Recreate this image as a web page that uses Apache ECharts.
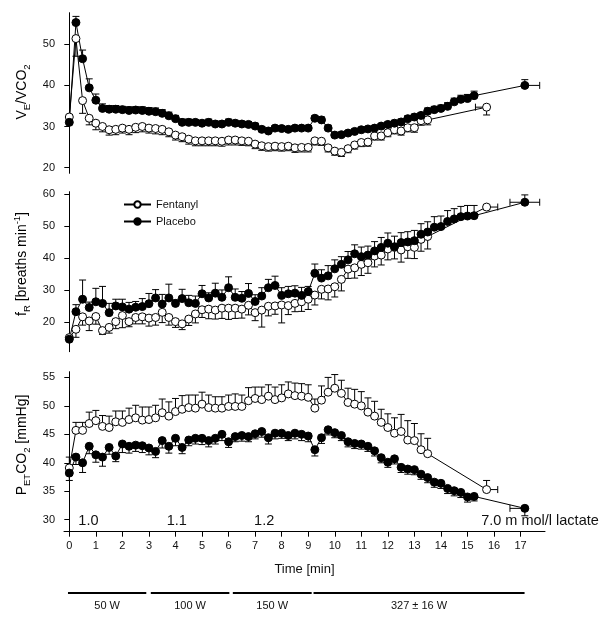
<!DOCTYPE html>
<html>
<head>
<meta charset="utf-8">
<script src="https://cdn.jsdelivr.net/npm/echarts@6/dist/echarts.min.js"></script>
<style>
html, body { margin: 0; padding: 0; background: #fff; }
#chart { width: 609px; height: 625px; }
</style>
</head>
<body>
<div id="chart"></div>
<script>
// time points [min], last one = mean time at exhaustion
var timeP = [0,0.25,0.5,0.75,1,1.25,1.5,1.75,2,2.25,2.5,2.75,3,3.25,3.5,3.75,4,4.25,4.5,4.75,
  5,5.25,5.5,5.75,6,6.25,6.5,6.75,7,7.25,7.5,7.75,8,8.25,8.5,8.75,9,9.25,9.5,9.75,
  10,10.25,10.5,10.75,11,11.25,11.5,11.75,12,12.25,12.5,12.75,13,13.25,13.5,13.75,14,14.25,14.5,14.75,
  15,15.25,17.16];
var timeF = [0,0.25,0.5,0.75,1,1.25,1.5,1.75,2,2.25,2.5,2.75,3,3.25,3.5,3.75,4,4.25,4.5,4.75,
  5,5.25,5.5,5.75,6,6.25,6.5,6.75,7,7.25,7.5,7.75,8,8.25,8.5,8.75,9,9.25,9.5,9.75,
  10,10.25,10.5,10.75,11,11.25,11.5,11.75,12,12.25,12.5,12.75,13,13.25,13.5,15.72];
var endTimeErrP = 0.56;
var endTimeErrF = 0.42;

// VE/VCO2
var vePlacebo = [31.0,55.3,46.5,39.4,36.4,34.4,34.2,34.2,34.1,33.9,
  34.0,33.9,33.7,33.6,33.2,32.6,31.9,31.0,31.0,31.0,
  30.8,31.0,30.6,30.6,31.0,30.8,30.6,30.5,30.1,29.3,
  28.9,29.6,29.5,29.3,29.6,29.6,29.6,32.0,31.6,29.6,
  27.9,28.0,28.4,28.8,29.2,29.4,29.6,30.1,30.5,30.8,
  31.1,31.9,32.3,32.7,33.7,34.1,34.4,34.9,36.0,36.6,
  36.8,37.5,40.0];
var vePlaceboErr = [0.5,1.5,2.1,2.2,1.5,1.1,0.9,0.9,0.8,0.9,
  0.8,0.9,0.9,0.9,0.9,0.9,0.8,0.8,0.8,0.7,
  0.7,0.8,0.7,0.7,0.8,0.7,0.7,0.7,0.7,0.7,
  0.7,0.6,0.6,0.6,0.6,0.6,0.6,0.6,0.7,0.7,
  0.6,0.6,0.6,0.6,0.6,0.6,0.6,0.6,0.6,0.7,
  0.7,0.7,0.7,0.7,0.8,0.8,0.8,0.9,0.9,1.0,
  1.0,1.1,1.4];
var veFentanyl = [32.3,51.4,36.3,32.0,30.8,30.0,29.2,29.3,29.6,29.3,
  29.8,30.0,29.6,29.5,29.3,28.7,27.9,27.5,26.9,26.5,
  26.5,26.5,26.5,26.4,26.7,26.7,26.5,26.4,25.7,25.3,
  25.1,25.2,25.1,25.2,24.8,24.9,24.9,26.5,26.4,24.8,
  24.0,23.7,24.6,25.5,26.1,26.2,27.7,27.7,28.5,29.2,
  28.9,29.7,29.7,31.4,31.6,34.7];
var veFentanylErr = [0.3,4.3,3.1,1.6,1.6,1.3,1.3,1.3,1.2,1.3,
  1.3,1.3,1.2,1.3,1.3,1.2,1.2,1.2,1.2,1.2,
  1.2,1.2,1.2,1.2,1.2,1.2,1.1,1.1,1.1,1.1,
  1.1,1.1,1.1,1.1,1.1,1.1,1.1,1.0,1.0,1.0,
  1.0,1.0,1.0,1.0,1.0,1.0,1.0,1.0,1.0,1.0,
  1.0,1.0,1.1,1.1,1.2,1.9];

// fR [breaths/min]
var frPlacebo = [14.7,23.3,27.2,24.6,26.4,25.9,23.0,25.1,24.8,24.1,
  24.7,24.9,25.8,27.6,25.7,27.6,25.9,27.4,26.1,25.9,
  28.9,27.6,29.1,27.8,30.8,27.8,27.5,29.0,26.5,28.2,
  30.8,31.5,28.4,28.9,29.1,28.4,29.6,35.3,33.8,34.5,
  36.7,38.1,39.5,41.4,40.5,41.0,42.3,43.4,44.7,43.6,
  44.9,45.1,45.5,47.5,48.2,49.7,49.9,51.5,52.3,53.0,
  53.2,53.3,57.5];
var frPlaceboErr = [0.6,2.2,6.0,1.7,4.2,5.3,2.9,2.1,2.4,2.1,
  1.8,2.5,3.2,2.6,3.0,4.3,1.1,2.9,2.3,2.3,
  2.6,1.6,3.1,2.3,3.4,2.6,2.1,3.1,2.1,2.6,
  2.6,2.9,2.4,2.3,2.3,2.5,1.6,2.9,2.6,3.2,
  2.8,2.4,2.6,2.8,3.0,2.8,2.9,3.1,3.2,3.3,
  3.1,3.2,3.2,3.3,3.2,3.3,3.3,3.4,3.2,3.2,
  3.3,3.2,2.3];
var frFentanyl = [15.2,17.8,21.7,20.4,21.8,17.4,18.4,20.2,22.1,20.2,
  21.5,21.7,21.3,21.5,23.1,21.5,20.2,19.5,21.0,22.6,
  23.9,24.1,23.8,24.4,24.4,24.4,24.1,25.3,23.0,23.8,
  25.0,25.1,25.4,25.2,25.9,26.4,27.2,28.5,30.3,30.4,
  31.1,33.4,36.6,37.0,38.1,38.6,40.7,41.0,42.9,43.4,
  42.6,43.6,43.4,45.9,46.8,56.0];
var frFentanylErr = [0.5,2.5,2.6,3.0,2.4,1.2,1.8,2.2,3.8,1.6,
  2.0,2.2,2.5,2.4,3.2,2.4,1.8,1.8,2.0,2.8,
  2.4,3.0,2.8,3.2,3.5,3.2,2.8,3.0,2.5,5.3,
  3.0,2.6,5.6,2.8,2.6,3.0,3.2,3.1,3.0,3.4,
  3.2,3.6,2.9,3.2,3.5,3.3,3.4,3.1,3.4,3.6,
  3.8,3.6,3.5,3.7,3.9,0.8];

// PETCO2 [mmHg]
var pePlacebo = [38.2,41.0,40.0,42.9,41.4,41.0,42.7,41.2,43.3,42.9,
  43.1,43.0,42.6,42.0,43.9,42.9,44.3,42.7,44.0,44.3,
  44.3,43.9,44.3,45.0,43.7,44.6,44.8,44.6,45.1,45.5,
  44.4,45.2,45.2,44.8,45.2,45.0,44.7,42.3,44.4,45.8,
  45.3,44.8,43.7,43.4,43.3,42.9,42.1,40.9,40.1,40.7,
  39.2,38.9,38.8,38.0,37.4,36.6,36.4,35.5,35.1,34.8,
  34.0,34.1,32.0];
var pePlaceboErr = [1.3,1.3,1.7,1.3,1.3,1.6,1.2,1.0,1.5,1.2,
  1.1,1.2,1.2,1.1,1.3,1.2,1.3,1.1,1.0,1.0,
  1.1,1.1,1.0,1.1,1.0,0.9,1.0,0.9,0.9,1.0,
  1.1,1.0,0.9,0.9,1.0,1.1,1.0,1.1,1.0,0.9,
  0.9,0.9,0.9,0.9,0.9,0.9,0.9,0.9,0.9,0.9,
  0.9,0.9,0.9,0.9,0.9,0.9,0.9,0.9,0.9,0.9,
  0.9,0.8,1.3];
var peFentanyl = [39.1,45.7,45.7,46.9,47.4,46.4,46.2,47.2,47.1,47.6,
  47.9,47.5,47.6,47.9,48.8,48.2,49.0,49.4,49.7,49.6,
  50.3,49.7,49.6,49.6,49.9,49.9,49.9,50.9,51.3,51.1,
  51.7,51.1,51.4,52.1,51.8,51.7,51.5,49.6,51.0,52.4,
  53.1,52.2,50.6,50.3,50.0,48.9,48.2,47.1,46.2,45.2,
  45.5,44.0,43.9,42.3,41.6,35.3];
var peFentanylErr = [1.9,1.4,1.4,2.0,1.8,1.9,2.0,1.9,2.0,2.0,
  2.2,2.3,2.2,2.2,2.4,2.5,2.3,2.4,2.2,2.3,
  2.1,2.2,2.0,2.0,2.0,2.2,2.0,2.3,2.0,2.2,
  2.0,2.2,2.3,2.1,2.2,2.2,2.2,1.6,2.5,2.6,
  2.4,2.3,2.5,2.6,2.5,2.5,2.6,2.3,2.4,2.7,
  3.0,3.4,3.0,2.8,2.7,1.6];

// axis ticks
var xTicks = [0,1,2,3,4,5,6,7,8,9,10,11,12,13,14,15,16,17];
var veTicks = [20,30,40,50];
var frTicks = [20,30,40,50,60];
var peTicks = [30,35,40,45,50,55];

// lactate [mmol/l] annotations
var lactateTime = [0.72, 4.05, 7.34, 17.73];
var lactateText = ['1.0', '1.1', '1.2', '7.0 m mol/l lactate'];

// workload stages
var loadStart = [-0.05, 3.07, 6.16, 9.2];
var loadEnd = [2.9, 6.03, 9.13, 17.15];
var loadText = ['50 W', '100 W', '150 W', '327 \u00b1 16 W'];

var FONT = '"Liberation Sans", Arial, sans-serif';
var INK = '#111';

function pairs(t, v) {
  return t.map(function (x, i) { return [x, v[i]]; });
}

// ySign: +1 bar up, -1 bar down; xSide for the last point: -1 left, 1 right, 0 both
function errData(t, v, e, ySign, xErr, xSide) {
  return t.map(function (x, i) {
    var xl = x, xr = x;
    if (i === t.length - 1) {
      if (xSide <= 0) xl = x - xErr;
      if (xSide >= 0) xr = x + xErr;
    }
    return [x, v[i], v[i] + ySign * e[i], xl, xr];
  });
}

function renderErr(params, api) {
  var p = api.coord([api.value(0), api.value(1)]);
  var e = api.coord([api.value(0), api.value(2)]);
  var l = api.coord([api.value(3), api.value(1)]);
  var r = api.coord([api.value(4), api.value(1)]);
  var c = 3.5;
  var st = { stroke: '#000', lineWidth: 1 };
  var kids = [
    { type: 'line', shape: { x1: p[0], y1: p[1], x2: e[0], y2: e[1] }, style: st },
    { type: 'line', shape: { x1: e[0] - c, y1: e[1], x2: e[0] + c, y2: e[1] }, style: st }
  ];
  if (l[0] < p[0] - 1) {
    kids.push({ type: 'line', shape: { x1: l[0], y1: p[1], x2: p[0], y2: p[1] }, style: st });
    kids.push({ type: 'line', shape: { x1: l[0], y1: p[1] - c, x2: l[0], y2: p[1] + c }, style: st });
  }
  if (r[0] > p[0] + 1) {
    kids.push({ type: 'line', shape: { x1: p[0], y1: p[1], x2: r[0], y2: p[1] }, style: st });
    kids.push({ type: 'line', shape: { x1: r[0], y1: p[1] - c, x2: r[0], y2: p[1] + c }, style: st });
  }
  return { type: 'group', children: kids };
}

function errSeries(idx, data) {
  return {
    type: 'custom', xAxisIndex: idx, yAxisIndex: idx, z: 1, silent: true,
    renderItem: renderErr, encode: { x: 0, y: 1 }, data: data
  };
}

function lineSeries(idx, name, data) {
  var filled = name === 'Placebo';
  return {
    type: 'line', name: name, xAxisIndex: idx, yAxisIndex: idx, z: 3,
    data: data, symbol: 'circle', symbolSize: 8, showAllSymbol: true,
    lineStyle: { color: '#000', width: 1 },
    itemStyle: { color: filled ? '#000' : '#fff', borderColor: '#000', borderWidth: 1 },
    emphasis: { disabled: true }
  };
}

function yAx(idx, min, max, ticks) {
  return {
    type: 'value', gridIndex: idx, min: min, max: max,
    axisLine: { show: true, lineStyle: { color: '#000', width: 1 } },
    axisTick: { show: true, length: 5, customValues: ticks, lineStyle: { color: '#000' } },
    axisLabel: { customValues: ticks, fontSize: 11, fontFamily: FONT, color: INK, margin: 9 },
    splitLine: { show: false }
  };
}

function xAx(idx, visible) {
  return {
    type: 'value', gridIndex: idx, min: -0.2, max: 17.92, show: visible,
    name: visible ? 'Time [min]' : '', nameLocation: 'middle', nameGap: 31,
    nameTextStyle: { fontSize: 13, fontFamily: FONT, color: INK },
    axisLine: { show: true, onZero: false, lineStyle: { color: '#000', width: 1 } },
    axisTick: { show: true, length: 5, customValues: xTicks, lineStyle: { color: '#000' } },
    axisLabel: { customValues: xTicks, fontSize: 11, fontFamily: FONT, color: INK, margin: 9 },
    splitLine: { show: false }
  };
}

var rich = {
  m: { fontSize: 14, fontFamily: FONT, color: INK, lineHeight: 20 },
  s: { fontSize: 9.5, fontFamily: FONT, color: INK, lineHeight: 20, verticalAlign: 'bottom', padding: [6, 0, 0, 0] },
  u: { fontSize: 9.5, fontFamily: FONT, color: INK, lineHeight: 20, verticalAlign: 'top', padding: [0, 0, 6, 0] }
};

function yTitle(text, y) {
  return {
    type: 'text', x: 22, y: y, rotation: Math.PI / 2,
    style: { text: text, rich: rich, align: 'center', verticalAlign: 'middle' }
  };
}

var chart = echarts.init(document.getElementById('chart'));

chart.setOption({
  animation: false,
  backgroundColor: '#fff',
  grid: [
    { left: 64, top: 12.7, width: 481, height: 160.6 },
    { left: 64, top: 191.7, width: 481, height: 160 },
    { left: 64, top: 371.7, width: 481, height: 160 },
    { left: 64, top: 593, width: 481, height: 13 }
  ],
  xAxis: [xAx(0, false), xAx(1, false), xAx(2, true), xAx(3, false)],
  yAxis: [
    yAx(0, 18.6, 57.7, veTicks),
    yAx(1, 10.8, 60.8, frTicks),
    yAx(2, 27.9, 56.0, peTicks),
    { type: 'value', gridIndex: 3, min: 0, max: 1, show: false }
  ],
  legend: {
    data: ['Fentanyl', 'Placebo'], orient: 'vertical', left: 123, top: 199,
    padding: 0, itemWidth: 27, itemHeight: 8, itemGap: 6,
    textStyle: { fontSize: 11, fontFamily: FONT, color: INK }
  },
  graphic: [
    yTitle('{m|V}{s|E}{m|/VCO}{s|2}', 92),
    yTitle('{m|f}{s|R}{m| [breaths min}{u|-1}{m|]}', 264),
    yTitle('{m|P}{s|ET}{m|CO}{s|2}{m| [mmHg]}', 445)
  ],
  series: [
    errSeries(0, errData(timeF, veFentanyl, veFentanylErr, -1, endTimeErrF, -1)),
    errSeries(0, errData(timeP, vePlacebo, vePlaceboErr, 1, endTimeErrP, 1)),
    lineSeries(0, 'Fentanyl', pairs(timeF, veFentanyl)),
    lineSeries(0, 'Placebo', pairs(timeP, vePlacebo)),

    errSeries(1, errData(timeF, frFentanyl, frFentanylErr, -1, endTimeErrF, 1)),
    errSeries(1, errData(timeP, frPlacebo, frPlaceboErr, 1, endTimeErrP, 0)),
    lineSeries(1, 'Fentanyl', pairs(timeF, frFentanyl)),
    lineSeries(1, 'Placebo', pairs(timeP, frPlacebo)),

    errSeries(2, errData(timeF, peFentanyl, peFentanylErr, 1, endTimeErrF, 1)),
    errSeries(2, errData(timeP, pePlacebo, pePlaceboErr, -1, endTimeErrP, -1)),
    lineSeries(2, 'Fentanyl', pairs(timeF, peFentanyl)),
    lineSeries(2, 'Placebo', pairs(timeP, pePlacebo)),

    {
      // lactate values
      type: 'custom', xAxisIndex: 2, yAxisIndex: 2, silent: true, z: 4,
      encode: { x: 0, y: 1 },
      data: lactateTime.map(function (t) { return [t, 29.7]; }),
      renderItem: function (params, api) {
        var p = api.coord([api.value(0), api.value(1)]);
        return {
          type: 'text', x: p[0], y: p[1],
          style: { text: lactateText[params.dataIndex], fontSize: 14.5, fontFamily: FONT,
            fill: INK, align: 'center', verticalAlign: 'middle' }
        };
      }
    },
    {
      // workload stages
      type: 'custom', xAxisIndex: 3, yAxisIndex: 3, silent: true,
      encode: { x: [0, 1], y: 2 },
      data: loadStart.map(function (s, i) { return [s, loadEnd[i], 1]; }),
      renderItem: function (params, api) {
        var a = api.coord([api.value(0), api.value(2)]);
        var b = api.coord([api.value(1), api.value(2)]);
        return {
          type: 'group', children: [
            { type: 'line', shape: { x1: a[0], y1: a[1], x2: b[0], y2: b[1] },
              style: { stroke: '#000', lineWidth: 2 } },
            { type: 'text', x: (a[0] + b[0]) / 2, y: a[1] + 13,
              style: { text: loadText[params.dataIndex], fontSize: 11, fontFamily: FONT,
                fill: INK, align: 'center', verticalAlign: 'middle' } }
          ]
        };
      }
    }
  ]
});
</script>
</body>
</html>
